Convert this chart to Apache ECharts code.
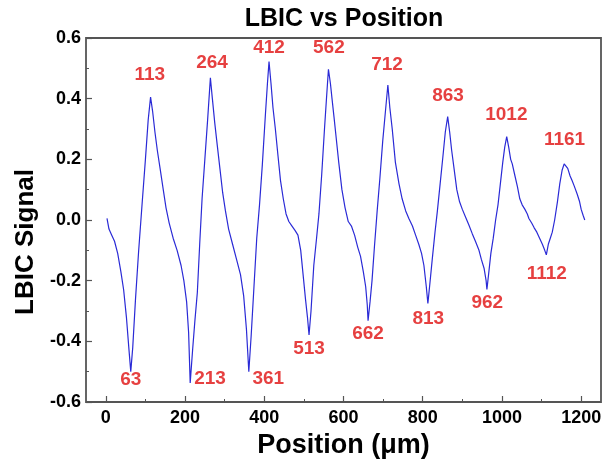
<!DOCTYPE html>
<html><head><meta charset="utf-8">
<script src="https://cdn.jsdelivr.net/npm/echarts@6/dist/echarts.min.js"></script>
<style>html,body{margin:0;padding:0;background:#fff}#c{width:605px;height:466px}</style>
</head><body><div id="c"></div>
<script>
// Curve: position (µm) and LBIC signal
var positions = [3,8,15,22,30,38,45,52,58,63,
68,75,83,92,100,107,113,
118,124,130,137,145,152,160,170,180,190,197,204,209,213,
219,225,231,237,243,250,257,264,
269,275,281,288,295,302,310,320,330,340,348,355,361,
367,374,381,388,395,403,408,412,
417,422,428,434,441,448,455,462,470,478,485,492,498,504,509,513,
518,525,532,538,545,552,557,562,
567,571,576,580,588,596,604,612,620,628,636,643,650,656,660,662,
667,672,678,685,692,699,706,712,
717,723,731,740,748,757,765,774,782,790,797,803,809,813,
818,824,831,837,844,851,857,863,
868,873,879,886,893,900,908,916,925,933,942,948,955,960,962,
967,972,978,984,990,996,1002,1007,1012,
1017,1022,1026,1032,1039,1045,1051,1058,1064,1068,1075,1081,1088,1095,1102,1108,1112,
1117,1122,1127,1133,1140,1146,1152,1157,1161,
1166,1172,1177,1183,1190,1196,1200,1205,1209];
var signal = [0.005,-0.03,-0.05,-0.07,-0.11,-0.17,-0.23,-0.32,-0.42,-0.50,
-0.42,-0.26,-0.10,0.06,0.20,0.33,0.405,
0.36,0.29,0.23,0.17,0.10,0.04,-0.01,-0.06,-0.10,-0.15,-0.20,-0.27,-0.37,-0.537,
-0.43,-0.33,-0.24,-0.08,0.07,0.20,0.33,0.469,
0.40,0.32,0.25,0.17,0.09,0.03,-0.03,-0.08,-0.13,-0.18,-0.25,-0.36,-0.50,
-0.38,-0.22,-0.06,0.05,0.18,0.35,0.45,0.522,
0.45,0.37,0.30,0.22,0.13,0.07,0.02,-0.005,-0.02,-0.035,-0.05,-0.10,-0.18,-0.26,-0.32,-0.379,
-0.30,-0.15,-0.06,0.02,0.15,0.30,0.40,0.497,
0.45,0.40,0.34,0.29,0.19,0.10,0.04,-0.005,-0.02,-0.05,-0.09,-0.12,-0.17,-0.22,-0.28,-0.332,
-0.27,-0.20,-0.09,0.03,0.14,0.26,0.36,0.445,
0.37,0.30,0.19,0.12,0.07,0.03,0.005,-0.02,-0.05,-0.08,-0.11,-0.15,-0.22,-0.275,
-0.21,-0.13,-0.04,0.03,0.12,0.21,0.29,0.341,
0.29,0.23,0.17,0.10,0.06,0.035,0.01,-0.015,-0.045,-0.07,-0.10,-0.13,-0.16,-0.20,-0.229,
-0.17,-0.11,-0.06,0.0,0.05,0.12,0.19,0.24,0.275,
0.24,0.20,0.185,0.15,0.11,0.07,0.05,0.035,0.02,0.005,-0.01,-0.025,-0.04,-0.06,-0.08,-0.10,-0.115,
-0.08,-0.06,-0.04,0.0,0.06,0.12,0.165,0.185,0.19,
0.17,0.145,0.13,0.11,0.085,0.06,0.035,0.015,0.0];

// Peak / valley annotations (text, anchor x, anchor y in data units)
var annoText = ['113','264','412','562','712','863','1012','1161','63','213','361','513','662','813','962','1112'];
var annoX = [111,268,412,563,710,864,1011,1158,63,263,410,513,662,814,963,1113];
var annoY = [0.478,0.520,0.569,0.569,0.511,0.410,0.348,0.264,-0.528,-0.524,-0.524,-0.426,-0.376,-0.324,-0.273,-0.176];

var xTicks = [0,200,400,600,800,1000,1200];
var xMinorTicks = [100,300,500,700,900,1100];
var X_MIN = -50, X_MAX = 1250, Y_MIN = -0.6, Y_MAX = 0.6;

var FONT = '"Liberation Sans", Arial, sans-serif';
var BOX = '#555';
var lineData = positions.map(function(x,i){return [x, signal[i]];});
var annoData = annoText.map(function(t,i){return {value:[annoX[i], annoY[i]], name:t};});

var chart = echarts.init(document.getElementById('c'), null, {renderer:'canvas'});
chart.setOption({
  animation:false,
  backgroundColor:'#fff',
  title:{text:'LBIC vs Position', left:339, textAlign:'center', top:2,
    textStyle:{fontFamily:FONT, fontWeight:'bold', fontSize:25, color:'#000'}},
  grid:{left:86, top:38, right:4, bottom:64, show:false},
  xAxis:[{
    type:'value', min:X_MIN, max:X_MAX, position:'bottom',
    name:'Position (μm)', nameLocation:'middle', nameGap:22,
    nameTextStyle:{fontFamily:FONT, fontWeight:'bold', fontSize:27, color:'#000'},
    axisLine:{show:false, onZeroAxisIndex:1},
    axisTick:{show:true, inside:true, length:6, customValues:xTicks, lineStyle:{color:'#555', width:1.2}},
    axisLabel:{customValues:xTicks, margin:7, fontFamily:FONT, fontWeight:'bold', fontSize:18, color:'#000',
      formatter:function(v){return String(v);}},
    splitLine:{show:false}
  },{
    type:'value', min:X_MIN, max:X_MAX, position:'bottom',
    axisLine:{show:false, onZeroAxisIndex:1},
    axisTick:{show:true, inside:true, length:3, customValues:xMinorTicks, lineStyle:{color:'#555', width:1}},
    axisLabel:{show:false}, splitLine:{show:false}
  },{
    // helper axis: its zero sits on the left edge, the y axis is placed on it
    type:'value', show:false, min:0, max:1, position:'top'
  }],
  yAxis:[{
    type:'value', min:Y_MIN, max:Y_MAX, interval:0.2, position:'left',
    name:'LBIC Signal', nameLocation:'middle', nameGap:46, nameRotate:90,
    nameTextStyle:{fontFamily:FONT, fontWeight:'bold', fontSize:26, color:'#000', padding:[0,44,0,0]},
    axisLine:{show:false, onZeroAxisIndex:2},
    axisTick:{show:true, inside:true, length:6, lineStyle:{color:'#555', width:1.2}},
    minorTick:{show:true, splitNumber:2, length:3, lineStyle:{color:'#555', width:1}},
    axisLabel:{margin:5, fontFamily:FONT, fontWeight:'bold', fontSize:18, color:'#000',
      formatter:function(v){return (Math.round(v*10)/10).toFixed(1);}},
    splitLine:{show:false}
  },{
    // helper axis: its zero sits on the bottom edge, the x axes are placed on it
    type:'value', show:false, min:0, max:1, position:'right'
  }],
  series:[{
    type:'line', data:lineData, showSymbol:false, smooth:false,
    lineStyle:{color:'#2a2ad6', width:1.2}, z:3
  },{
    type:'scatter', data:annoData, symbolSize:0, z:4,
    label:{show:true, position:'inside', formatter:function(p){return p.name;},
      fontFamily:FONT, fontWeight:'bold', fontSize:19, color:'#e01010'}
  }]
});
// Plot frame, placed from the axes' own scales
var p0 = chart.convertToPixel({xAxisIndex:0, yAxisIndex:0}, [X_MIN, Y_MAX]);
var p1 = chart.convertToPixel({xAxisIndex:0, yAxisIndex:0}, [X_MAX, Y_MIN]);
chart.setOption({graphic:[{
  type:'rect', z:10, silent:true,
  shape:{x:p0[0], y:p0[1], width:p1[0]-p0[0], height:p1[1]-p0[1]},
  style:{fill:null, stroke:BOX, lineWidth:1.8}
}]});
</script></body></html>
